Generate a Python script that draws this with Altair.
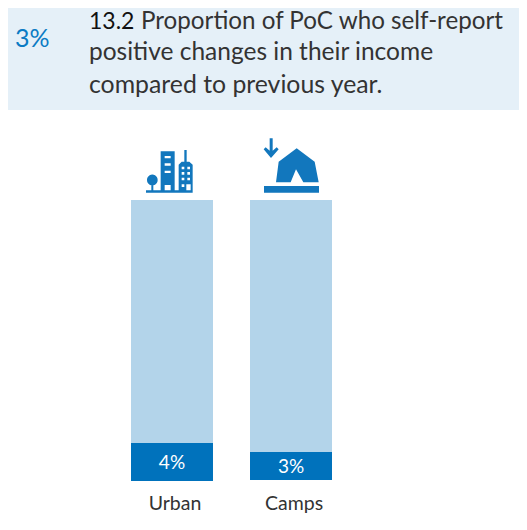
import altair as alt
import pandas as pd

categories = ["Urban", "Camps"]
bar_base = [0.0, 0.1]
achieved = [4.05, 3.1]
background_top = [30.0, 30.0]
labels = ["4%", "3%"]
headline_value = "3%"
indicator_id = "13.2"
indicator_lines = ["Proportion of PoC who self-report", "positive changes in their income", "compared to previous year."]

FONT = "Lato"
DARK = "#0072BC"
ICON = "#1277BD"
LIGHT = "#B3D4EA"
BANNER = "#E5F0F8"
TEXT = "#333333"


def pt(zx, zy, cx, cy):
    return f"{(120 + zx / 3 - cx) / 32:.4f},{(130 + zy / 3 - cy) / 32:.4f}"


def poly(points, cx, cy):
    return "M" + "L".join(pt(x, y, cx, cy) for x, y in points) + "Z"


def rect(x0, y0, x1, y1, cx, cy, hole=False):
    p = [(x0, y0), (x1, y0), (x1, y1), (x0, y1)]
    return poly(p[::-1] if hole else p, cx, cy)


def circle(x, y, r, cx, cy):
    a = pt(x - r, y, cx, cy)
    b = pt(x + r, y, cx, cy)
    rr = r / 3 / 32
    return f"M{a}A{rr:.4f},{rr:.4f} 0 1 1 {b}A{rr:.4f},{rr:.4f} 0 1 1 {a}Z"


# icon glyphs, origin at the band centre of each bar
c = (172, 172)
city = "".join([
    rect(78, 181, 218, 188, *c),
    circle(97, 150, 16, *c),
    rect(94, 160, 100, 182, *c),
    rect(122, 64, 164, 182, *c),
    rect(134, 78, 152, 85, *c, hole=True),
    rect(134, 100, 152, 107, *c, hole=True),
    rect(134, 122, 152, 129, *c, hole=True),
    rect(134, 165, 152, 182, *c, hole=True),
    poly([(176, 104), (185, 95), (193, 95), (193, 60), (200, 60), (200, 95), (208, 95), (218, 104), (218, 182), (176, 182)], *c),
    *[rect(x, y, x + 8, y + 8, *c, hole=True) for x in (185, 202) for y in (110, 126, 143)],
    rect(199, 163, 212, 182, *c, hole=True),
    rect(185, 163, 193, 171, *c, hole=True),
])
t = (291, 172)
tent = "".join([
    poly([(449, 25), (458, 25), (458, 62), (470, 52), (476, 58), (453, 84), (431, 58), (437, 52), (449, 62)], *t),
    poly([(468, 157), (476, 95), (530, 55), (584, 95), (596, 157), (550, 157), (528, 118), (512, 157)], *t),
    rect(432, 168, 597, 188, *t),
])
icons = [city, tent]

bars = pd.DataFrame({
    "category": categories,
    "base": bar_base,
    "value": achieved,
    "top": background_top,
    "label": labels,
    "mid": [(a + b) / 2 for a, b in zip(bar_base, achieved)],
})

W, H = 511, 508

x = alt.X(
    "category:N",
    sort=categories,
    title=None,
    scale=alt.Scale(domain=categories, range=[123, 324], paddingInner=0.311, paddingOuter=0),
    axis=alt.Axis(domain=False, ticks=False, labelAngle=0, labelFont=FONT, labelFontSize=19.5,
                  labelColor=TEXT, labelPadding=13, labelOffset=3, grid=False, offset=473 - H),
)
yscale = alt.Scale(domain=[0, 30], range=[473, 192])
y_axisless = dict(title=None, axis=None, scale=yscale)

base = alt.Chart(bars)
light = base.mark_bar(color=LIGHT, opacity=1).encode(
    x=x, y=alt.Y("top:Q", **y_axisless), y2="base:Q")
dark = base.mark_bar(color=DARK).encode(
    x=x, y=alt.Y("value:Q", **y_axisless), y2="base:Q")
bar_text = base.mark_text(font=FONT, fontSize=19, color="white", baseline="middle", dy=1).encode(
    x=x, y=alt.Y("mid:Q", **y_axisless), text="label:N")

icon_layers = [
    alt.Chart(pd.DataFrame({"category": [cat]})).mark_point(
        shape=path, size=4096, filled=True, color=ICON, opacity=1, strokeWidth=0
    ).encode(x=x, y=alt.value(164))
    for cat, path in zip(categories, icons)
]

banner_rect = alt.Chart(pd.DataFrame({"a": [0]})).mark_rect(color=BANNER).encode(
    x=alt.value(0), x2=alt.value(W), y=alt.value(0), y2=alt.value(102))
value_text = alt.Chart(pd.DataFrame({"t": [headline_value]})).mark_text(
    font=FONT, fontSize=25, color="#0B7BC4", align="left", baseline="alphabetic"
).encode(x=alt.value(7), y=alt.value(39), text="t:N")
id_text = alt.Chart(pd.DataFrame({"t": [indicator_id]})).mark_text(
    font=FONT, fontSize=23, color="#111111", align="left", baseline="alphabetic"
).encode(x=alt.value(81), y=alt.value(21), text="t:N")
line_layers = [
    alt.Chart(pd.DataFrame({"t": [txt]})).mark_text(
        font=FONT, fontSize=fs, color=TEXT, align="left", baseline="alphabetic"
    ).encode(x=alt.value(xp), y=alt.value(yp), text="t:N")
    for txt, xp, yp, fs in zip(indicator_lines, [133, 81, 81], [21, 52, 84.5], [24.2, 24.5, 24.8])
]

chart = alt.layer(banner_rect, light, dark, bar_text, *icon_layers, value_text, id_text, *line_layers).properties(
    width=W, height=H, padding=0, autosize=alt.AutoSizeParams(type="none", contains="content")
).resolve_scale(x="shared", y="shared").configure_view(stroke=None)
chart.save("out.html", embed_options={"renderer": "svg", "actions": False})
